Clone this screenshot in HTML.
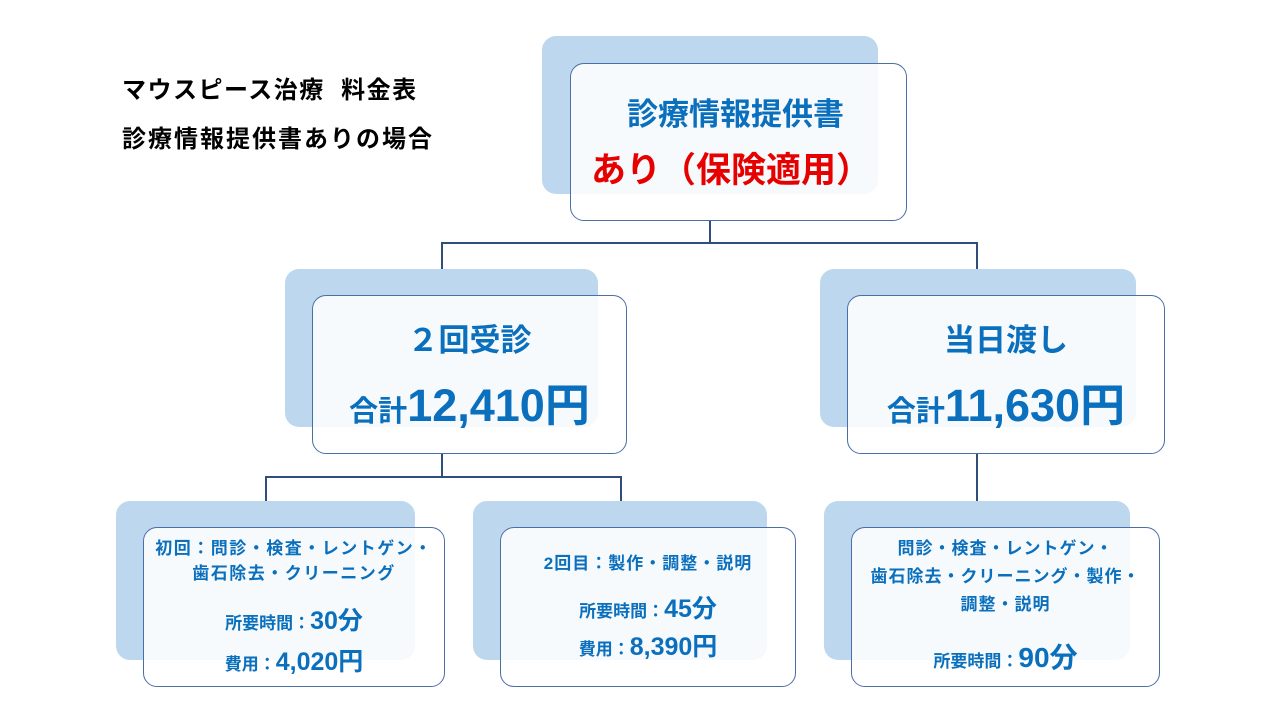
<!DOCTYPE html>
<html><head><meta charset="utf-8"><style>
body{margin:0;width:1280px;height:720px;background:#fff;position:relative;overflow:hidden;font-family:"Liberation Sans","Noto Sans CJK JP",sans-serif;font-weight:bold}
.s{position:absolute;background:#bdd7ee;border-radius:14px}
.b{position:absolute;background:rgba(255,255,255,0.88);border:1.3px solid #4a6fa5;border-radius:14px;box-sizing:border-box;color:#0a6fbc;text-align:center}
.l{position:absolute;background:#2f4f7a}
.t{position:absolute;white-space:nowrap}
</style></head><body>
<div class="t" style="left:122px;top:70px;font-size:24px;color:#000;letter-spacing:1.5px">マウスピース治療&nbsp;&nbsp;料金表</div>
<div class="t" style="left:122px;top:119px;font-size:24px;color:#000;letter-spacing:2px">診療情報提供書ありの場合</div>

<div class="l" style="left:709px;top:221px;width:1.5px;height:22px"></div>
<div class="l" style="left:441px;top:242px;width:537px;height:1.5px"></div>
<div class="l" style="left:441px;top:242px;width:1.5px;height:53px"></div>
<div class="l" style="left:976px;top:242px;width:1.5px;height:53px"></div>
<div class="l" style="left:441px;top:454px;width:1.5px;height:23px"></div>
<div class="l" style="left:265px;top:476px;width:357px;height:1.5px"></div>
<div class="l" style="left:265px;top:476px;width:1.5px;height:25px"></div>
<div class="l" style="left:620px;top:476px;width:1.5px;height:51px"></div>
<div class="l" style="left:976px;top:454px;width:1.5px;height:73px"></div>

<div class="s" style="left:542px;top:36px;width:336px;height:158px"></div>
<div class="b" style="left:570px;top:63px;width:337px;height:158px">
<div class="t" style="left:0;right:6px;top:25px;font-size:31px">診療情報提供書</div>
<div class="t" style="left:20px;top:78px;font-size:35px;color:#e60000;text-align:left">あり（保険適用）</div>
</div>

<div class="s" style="left:285px;top:269px;width:313px;height:158px"></div>
<div class="b" style="left:312px;top:295px;width:315px;height:159px">
<div class="t" style="left:0;right:0;top:19px;font-size:31px">２回受診</div>
<div class="t" style="left:0;right:0;top:73px;font-size:29px">合計<span style="font-size:45px">12,410円</span></div>
</div>

<div class="s" style="left:820px;top:269px;width:316px;height:158px"></div>
<div class="b" style="left:847px;top:295px;width:318px;height:159px">
<div class="t" style="left:0;right:0;top:19px;font-size:31px">当日渡し</div>
<div class="t" style="left:0;right:0;top:73px;font-size:29px">合計<span style="font-size:45px">11,630円</span></div>
</div>

<div class="s" style="left:116px;top:501px;width:299px;height:159px"></div>
<div class="b" style="left:143px;top:527px;width:302px;height:160px">
<div class="t" style="left:0;right:0;top:8px;font-size:17px;line-height:25px;letter-spacing:1.5px">初回：問診・検査・レントゲン・<br>歯石除去・クリーニング</div>
<div class="t" style="left:0;right:0;top:73px;font-size:17px">所要時間：<span style="font-size:25px">30分</span></div>
<div class="t" style="left:0;right:0;top:114px;font-size:17px">費用：<span style="font-size:25px">4,020円</span></div>
</div>

<div class="s" style="left:473px;top:501px;width:294px;height:159px"></div>
<div class="b" style="left:500px;top:527px;width:296px;height:160px">
<div class="t" style="left:0;right:0;top:21px;font-size:17px;letter-spacing:1px">2回目：製作・調整・説明</div>
<div class="t" style="left:0;right:0;top:61px;font-size:17px">所要時間：<span style="font-size:25px">45分</span></div>
<div class="t" style="left:0;right:0;top:99px;font-size:17px">費用：<span style="font-size:25px">8,390円</span></div>
</div>

<div class="s" style="left:824px;top:501px;width:306px;height:159px"></div>
<div class="b" style="left:851px;top:527px;width:309px;height:160px">
<div class="t" style="left:0;right:0;top:7px;font-size:17px;line-height:28px;letter-spacing:1px">問診・検査・レントゲン・<br>歯石除去・クリーニング・製作・<br>調整・説明</div>
<div class="t" style="left:0;right:0;top:108px;font-size:17px">所要時間：<span style="font-size:28px">90分</span></div>
</div>
</body></html>
